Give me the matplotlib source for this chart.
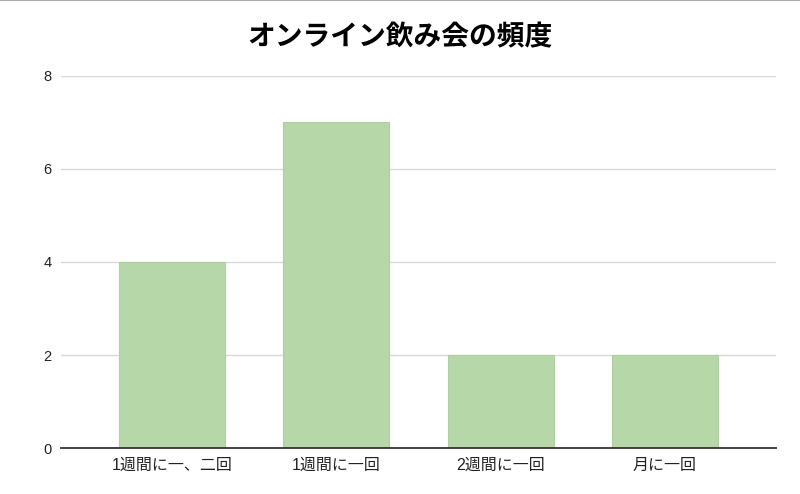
import matplotlib
matplotlib.use("Agg")
import matplotlib.pyplot as plt
from matplotlib.lines import Line2D

plt.rcParams['font.family'] = ['Liberation Sans', 'Noto Sans CJK JP', 'DejaVu Sans']

categories = ["1週間に一、二回", "1週間に一回", "2週間に一回", "月に一回"]
values = [4, 7, 2, 2]
yticks = [0, 2, 4, 6, 8]
title = "オンライン飲み会の頻度"

fig = plt.figure(figsize=(8, 4.94), dpi=100)
ax = fig.add_axes([0.07625, 0.0931, 0.89375, 0.7531])

x = list(range(len(categories)))
ax.bar(x, values, width=0.645, color="#b6d7a8", edgecolor="#aecfa0", linewidth=0.8, zorder=3)
ax.set_xlim(-0.676, len(categories) - 1 + 0.676)
ax.set_ylim(0, 8)
ax.set_yticks(yticks)
ax.set_yticklabels([str(v) for v in yticks])
ax.set_xticks(x)
ax.set_xticklabels(categories)
ax.grid(axis="y", color="#d9d9d9", linewidth=1, zorder=0)
for s in ["top", "right", "left"]:
    ax.spines[s].set_visible(False)
ax.spines["bottom"].set_color("#333333")
ax.spines["bottom"].set_linewidth(1.3)
ax.spines["bottom"].set_zorder(4)
ax.tick_params(axis="both", length=0, colors="#222222")
ax.tick_params(axis="y", pad=7, labelsize=10.5)
ax.tick_params(axis="x", pad=7, labelsize=11.5)

fig.text(0.5, 0.925, title, ha="center", va="center", fontsize=20,
         fontweight="bold", family=["Noto Sans CJK JP", "DejaVu Sans"], color="#000000")
fig.add_artist(Line2D([0, 1], [0.999, 0.999], transform=fig.transFigure,
                      color="#aaaaaa", linewidth=1.5))

fig.savefig("out.png", dpi=100)
